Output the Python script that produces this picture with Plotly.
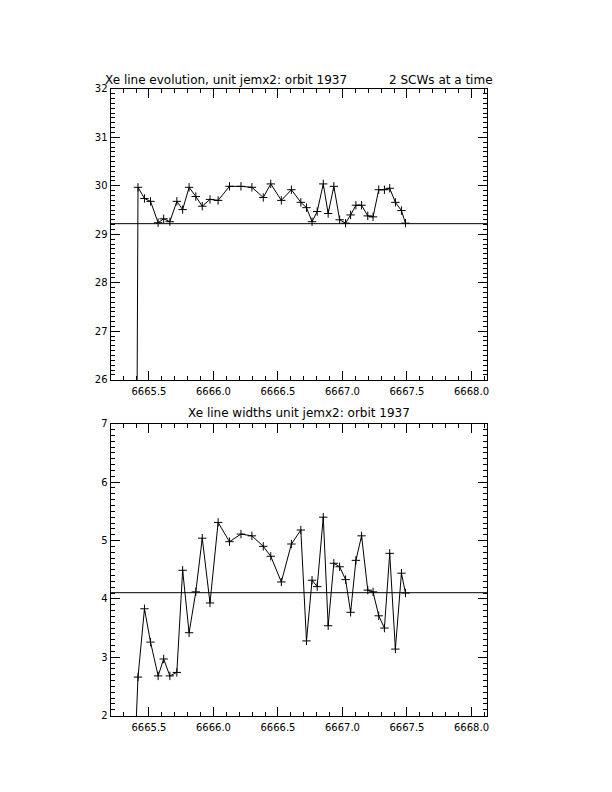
import plotly.graph_objects as go

# ---- data ----
time_x = [6665.365, 6665.415, 6665.465, 6665.512, 6665.571, 6665.614, 6665.662, 6665.716,
          6665.761, 6665.811, 6665.863, 6665.913, 6665.973, 6666.036, 6666.124, 6666.213,
          6666.298, 6666.386, 6666.444, 6666.526, 6666.604, 6666.677, 6666.721, 6666.764,
          6666.804, 6666.851, 6666.889, 6666.933, 6666.978, 6667.024, 6667.063, 6667.104,
          6667.148, 6667.196, 6667.237, 6667.281, 6667.325, 6667.366, 6667.410, 6667.457,
          6667.488]

line_energy = [0.0, 29.97, 29.74, 29.68, 29.24, 29.32, 29.26, 29.68, 29.51, 29.97, 29.78,
               29.58, 29.72, 29.70, 29.99, 29.99, 29.97, 29.76, 30.04, 29.70, 29.92, 29.66,
               29.55, 29.26, 29.47, 30.04, 29.43, 29.99, 29.30, 29.23, 29.40, 29.60, 29.60,
               29.38, 29.36, 29.92, 29.92, 29.95, 29.66, 29.49, 29.23]

line_width = [0.0, 2.66, 3.83, 3.26, 2.68, 2.97, 2.68, 2.74, 4.49, 3.42, 4.12, 5.04, 3.93,
              5.31, 4.98, 5.11, 5.08, 4.90, 4.73, 4.29, 4.94, 5.18, 3.28, 4.32, 4.21, 5.40,
              3.54, 4.61, 4.55, 4.33, 3.77, 4.66, 5.08, 4.15, 4.12, 3.71, 3.50, 4.78, 3.14,
              4.44, 4.10]

energy_ref = 29.22
width_ref = 4.106

x_range = [6665.202, 6668.124]
energy_range = [26, 32]
width_range = [2, 7]

title_top_left = "Xe line evolution, unit jemx2: orbit 1937"
title_top_right = "2 SCWs at a time"
title_bottom = "Xe line widths unit jemx2: orbit 1937"

# ---- figure (page body has an 8px margin) ----
OFF = 8
W, H = 612 - 2 * OFF, 792 - 2 * OFF


def px(xp):
    return (xp - OFF) / W


def py(yp):
    return 1 - (yp - OFF) / H


xl, xr = px(110.7), px(488.3)
top_dom = [py(380), py(85)]
bot_dom = [py(720.7), py(424.7)]

FONT = "DejaVu Sans"

fig = go.Figure()
marker = dict(symbol="cross-thin-open", size=6, color="black", line=dict(color="black", width=1))
fig.add_trace(go.Scatter(x=time_x, y=line_energy, mode="lines+markers", xaxis="x", yaxis="y",
                         line=dict(color="black", width=1), marker=marker, showlegend=False))
fig.add_trace(go.Scatter(x=time_x, y=line_width, mode="lines+markers", xaxis="x2", yaxis="y2",
                         line=dict(color="black", width=1), marker=marker, showlegend=False))


def xaxis_cfg(anchor):
    return dict(domain=[xl, xr], range=x_range, anchor=anchor, showgrid=False, zeroline=False,
                showline=True, linecolor="black", linewidth=1, mirror="allticks",
                ticks="inside", ticklen=9, tickwidth=1, tickcolor="black",
                tick0=6665.5, dtick=0.5, tickformat=".1f", ticklabelstandoff=2,
                minor=dict(dtick=0.1, ticks="inside", ticklen=4, tickwidth=1, tickcolor="black",
                           showgrid=False),
                tickfont=dict(family=FONT, size=10, color="black"), fixedrange=True)


def yaxis_cfg(anchor, dom, rng):
    return dict(domain=dom, range=rng, anchor=anchor, showgrid=False, zeroline=False,
                showline=True, linecolor="black", linewidth=1, mirror="allticks",
                ticks="inside", ticklen=9, tickwidth=1, tickcolor="black",
                dtick=1, tickformat="d",
                minor=dict(dtick=0.1, ticks="inside", ticklen=4, tickwidth=1, tickcolor="black",
                           showgrid=False),
                tickfont=dict(family=FONT, size=10, color="black"), fixedrange=True)


fig.update_layout(
    width=W, height=H, margin=dict(l=0, r=0, t=0, b=0),
    paper_bgcolor="white", plot_bgcolor="white",
    xaxis=xaxis_cfg("y"), yaxis=yaxis_cfg("x", top_dom, energy_range),
    xaxis2=xaxis_cfg("y2"), yaxis2=yaxis_cfg("x2", bot_dom, width_range),
    shapes=[
        dict(type="line", xref="x domain", yref="y", x0=0, x1=1, y0=energy_ref, y1=energy_ref,
             line=dict(color="black", width=1)),
        dict(type="line", xref="x2 domain", yref="y2", x0=0, x1=1, y0=width_ref, y1=width_ref,
             line=dict(color="black", width=1)),
    ],
    annotations=[
        dict(text=title_top_left, xref="paper", yref="paper", x=px(103), y=py(76),
             xanchor="left", yanchor="middle", showarrow=False,
             font=dict(family=FONT, size=12, color="black")),
        dict(text=title_top_right, xref="paper", yref="paper", x=px(496), y=py(76),
             xanchor="right", yanchor="middle", showarrow=False,
             font=dict(family=FONT, size=12, color="black")),
        dict(text=title_bottom, xref="paper", yref="paper", x=(xl + xr) / 2, y=py(414),
             xanchor="center", yanchor="middle", showarrow=False,
             font=dict(family=FONT, size=12, color="black")),
    ],
)

fig.write_html("out.html")
